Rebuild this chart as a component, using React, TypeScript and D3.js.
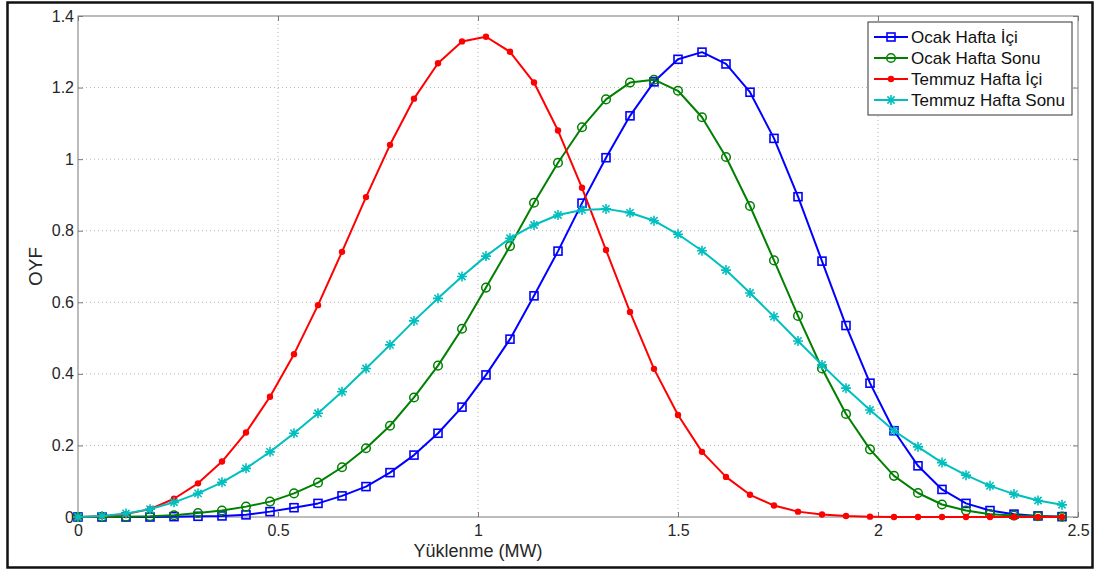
import { useEffect, useRef } from 'react';
import * as d3 from 'd3';

// load values (MW), step 0.06
const loadMW = d3.range(42).map((i) => +(i * 0.06).toFixed(2));

const ocakHaftaIci = [
	0, 0, 0, 0, 0.001, 0.002, 0.003, 0.006, 0.015, 0.026, 0.038, 0.059, 0.085, 0.124,
	0.173, 0.234, 0.307, 0.397, 0.497, 0.618, 0.743, 0.877, 1.004, 1.121, 1.216, 1.279,
	1.299, 1.266, 1.187, 1.058, 0.895, 0.715, 0.535, 0.374, 0.241, 0.143, 0.077, 0.038,
	0.018, 0.008, 0.003, 0.001,
];
const ocakHaftaSonu = [
	0, 0, 0.001, 0.002, 0.005, 0.011, 0.018, 0.029, 0.043, 0.066, 0.096, 0.139, 0.192,
	0.255, 0.334, 0.423, 0.526, 0.641, 0.757, 0.878, 0.99, 1.089, 1.167, 1.214, 1.222,
	1.191, 1.117, 1.006, 0.869, 0.717, 0.562, 0.415, 0.288, 0.189, 0.115, 0.067, 0.035,
	0.018, 0.008, 0.004, 0.002, 0.001,
];
const temmuzHaftaIci = [
	0, 0.002, 0.008, 0.022, 0.051, 0.094, 0.155, 0.236, 0.336, 0.455, 0.592, 0.741,
	0.894, 1.04, 1.169, 1.268, 1.329, 1.342, 1.3, 1.214, 1.08, 0.92, 0.746, 0.573, 0.414,
	0.285, 0.182, 0.112, 0.062, 0.032, 0.015, 0.007, 0.003, 0.001, 0, 0, 0, 0, 0, 0, 0, 0,
];
const temmuzHaftaSonu = [
	0, 0.003, 0.01, 0.022, 0.041, 0.066, 0.097, 0.136, 0.182, 0.234, 0.29, 0.35, 0.415,
	0.481, 0.548, 0.611, 0.672, 0.729, 0.779, 0.816, 0.844, 0.858, 0.861, 0.85, 0.828,
	0.79, 0.744, 0.69, 0.626, 0.56, 0.492, 0.425, 0.36, 0.299, 0.241, 0.196, 0.152, 0.117,
	0.087, 0.064, 0.046, 0.034,
];

const seriesNames = ['Ocak Hafta İçi', 'Ocak Hafta Sonu', 'Temmuz Hafta İçi', 'Temmuz Hafta Sonu'];
const seriesValues = [ocakHaftaIci, ocakHaftaSonu, temmuzHaftaIci, temmuzHaftaSonu];
const seriesColors = ['#0000ff', '#008000', '#ff0000', '#00bfbf'];
const seriesMarkers = ['square', 'circle', 'dot', 'star'];

const xTicks = [0, 0.5, 1, 1.5, 2, 2.5];
const yTicks = [0, 0.2, 0.4, 0.6, 0.8, 1, 1.2, 1.4];

const FONT = '"Liberation Sans", Arial, sans-serif';

const drawMarker = (g: any, kind: string, cx: number, cy: number, color: string) => {
	if (kind === 'square') {
		g.append('rect')
			.attr('x', cx - 4)
			.attr('y', cy - 4)
			.attr('width', 8)
			.attr('height', 8)
			.attr('fill', 'none')
			.attr('stroke', color)
			.attr('stroke-width', 1.6);
	} else if (kind === 'circle') {
		g.append('circle')
			.attr('cx', cx)
			.attr('cy', cy)
			.attr('r', 4.3)
			.attr('fill', 'none')
			.attr('stroke', color)
			.attr('stroke-width', 1.5);
	} else if (kind === 'dot') {
		g.append('circle').attr('cx', cx).attr('cy', cy).attr('r', 3.2).attr('fill', color);
	} else {
		const r = 5;
		const d = r * 0.72;
		g.append('path')
			.attr(
				'd',
				`M${cx - r},${cy}L${cx + r},${cy}M${cx},${cy - r}L${cx},${cy + r}` +
					`M${cx - d},${cy - d}L${cx + d},${cy + d}M${cx - d},${cy + d}L${cx + d},${cy - d}`
			)
			.attr('stroke', color)
			.attr('stroke-width', 1.6)
			.attr('fill', 'none');
	}
};

const App = () => {
	const ref = useRef<SVGSVGElement>(null);

	useEffect(() => {
		const width = 1101,
			height = 570;
		const plot = { left: 78, right: 1078, top: 16, bottom: 517 };

		const svg = d3.select(ref.current).attr('width', width).attr('height', height);
		svg.selectAll('*').remove();

		svg.append('rect').attr('width', width).attr('height', height).attr('fill', '#fff');

		// outer frame
		svg
			.append('rect')
			.attr('x', 7.5)
			.attr('y', 2.5)
			.attr('width', 1085)
			.attr('height', 565)
			.attr('fill', 'none')
			.attr('stroke', '#111')
			.attr('stroke-width', 2.5);

		const x = d3.scaleLinear().domain([0, 2.5]).range([plot.left, plot.right]);
		const y = d3.scaleLinear().domain([0, 1.4]).range([plot.bottom, plot.top]);

		// grid
		const grid = svg.append('g');
		xTicks.slice(1, -1).forEach((t) => {
			grid.append('line')
				.attr('x1', x(t)).attr('x2', x(t))
				.attr('y1', plot.top).attr('y2', plot.bottom)
				.attr('stroke', '#b4b4b4').attr('stroke-dasharray', '1,3');
		});
		yTicks.slice(1, -1).forEach((t) => {
			grid.append('line')
				.attr('x1', plot.left).attr('x2', plot.right)
				.attr('y1', y(t)).attr('y2', y(t))
				.attr('stroke', '#b4b4b4').attr('stroke-dasharray', '1,3');
		});

		// axes box
		svg
			.append('rect')
			.attr('x', plot.left)
			.attr('y', plot.top)
			.attr('width', plot.right - plot.left)
			.attr('height', plot.bottom - plot.top)
			.attr('fill', 'none')
			.attr('stroke', '#7a7a7a')
			.attr('stroke-width', 1);

		// inward ticks, both sides
		const xAxisB = d3.axisBottom(x).tickValues(xTicks).tickSize(-5).tickFormat(d3.format('~g') as any).tickPadding(8);
		const gB = svg.append('g').attr('transform', `translate(0,${plot.bottom})`).call(xAxisB);
		const xAxisT = d3.axisTop(x).tickValues(xTicks).tickSize(-5).tickFormat(() => '');
		const gT = svg.append('g').attr('transform', `translate(0,${plot.top})`).call(xAxisT);
		const yAxisL = d3.axisLeft(y).tickValues(yTicks).tickSize(-5).tickFormat(d3.format('~g') as any).tickPadding(4);
		const gL = svg.append('g').attr('transform', `translate(${plot.left},0)`).call(yAxisL);
		const yAxisR = d3.axisRight(y).tickValues(yTicks).tickSize(-5).tickFormat(() => '');
		const gR = svg.append('g').attr('transform', `translate(${plot.right},0)`).call(yAxisR);
		[gB, gT, gL, gR].forEach((g) => {
			g.select('.domain').remove();
			g.selectAll('line').attr('stroke', '#7a7a7a');
			g.selectAll('text')
				.attr('font-family', FONT)
				.attr('font-size', 16)
				.attr('fill', '#262626');
		});

		// series
		const line = d3
			.line<number>()
			.x((d, i) => x(loadMW[i]))
			.y((d) => y(d));

		seriesValues.forEach((vals, k) => {
			const g = svg.append('g');
			g.append('path')
				.datum(vals)
				.attr('d', line)
				.attr('fill', 'none')
				.attr('stroke', seriesColors[k])
				.attr('stroke-width', 2)
				.attr('stroke-linejoin', 'round');
			vals.forEach((v, i) => drawMarker(g, seriesMarkers[k], x(loadMW[i]), y(v), seriesColors[k]));
		});

		// axis labels
		svg
			.append('text')
			.attr('x', x(1))
			.attr('y', 557)
			.attr('text-anchor', 'middle')
			.attr('font-family', FONT)
			.attr('font-size', 18)
			.attr('fill', '#262626')
			.text('Yüklenme (MW)');
		svg
			.append('text')
			.attr('transform', `translate(42,${(plot.top + plot.bottom) / 2}) rotate(-90)`)
			.attr('text-anchor', 'middle')
			.attr('font-family', FONT)
			.attr('font-size', 19)
			.attr('fill', '#262626')
			.text('OYF');

		// legend
		const lg = svg.append('g').attr('transform', 'translate(868,22)');
		lg.append('rect')
			.attr('width', 204)
			.attr('height', 93)
			.attr('fill', '#fff')
			.attr('stroke', '#333')
			.attr('stroke-width', 1);
		seriesNames.forEach((name, k) => {
			const cy = 15 + k * 21;
			lg.append('line')
				.attr('x1', 6).attr('x2', 40)
				.attr('y1', cy).attr('y2', cy)
				.attr('stroke', seriesColors[k]).attr('stroke-width', 2);
			drawMarker(lg, seriesMarkers[k], 23, cy, seriesColors[k]);
			lg.append('text')
				.attr('x', 43)
				.attr('y', cy + 6)
				.attr('font-family', FONT)
				.attr('font-size', 17)
				.attr('fill', '#111')
				.text(name);
		});
	}, []);

	return <svg ref={ref} style={{ position: 'absolute', left: 0, top: 0 }} />;
};

export default App;
